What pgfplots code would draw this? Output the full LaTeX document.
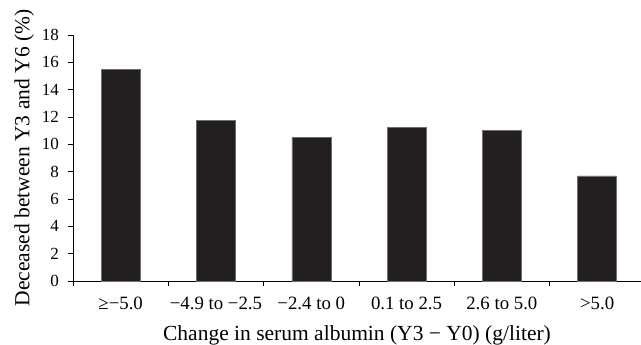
\documentclass[border=0pt]{standalone}
\usepackage{fontspec}
\setmainfont{Liberation Serif}
\usepackage{pgfplots}
\pgfplotsset{compat=1.18}
\definecolor{barfill}{RGB}{35,31,32}
\definecolor{baredge}{RGB}{110,110,110}
\begin{document}
\begin{tikzpicture}
\begin{axis}[
  scale only axis,
  width=568bp, height=246bp,
  xmin=0, xmax=5.96, ymin=0, ymax=18,
  axis x line*=bottom, axis y line*=left,
  axis line style={line width=0.8bp, black},
  tick style={line width=0.8bp, black},
  tick align=outside,
  major tick length=5bp,
  ytick={0,2,...,18},
  xtick={0,1,...,5},
  xticklabels={},
  extra x ticks={0.5,1.5,2.5,3.5,4.5,5.5},
  extra x tick labels={≥−5.0,−4.9 to −2.5,−2.4 to 0,0.1 to 2.5,2.6 to 5.0,>5.0},
  extra x tick style={major tick length=0pt, tick label style={font=\fontsize{18.8bp}{20bp}\selectfont, anchor=center, yshift=-22bp, inner sep=0pt}},
  /pgf/number format/assume math mode=true,
  yticklabel style={font=\fontsize{17bp}{19bp}\selectfont, anchor=east, inner sep=0pt, xshift=-9bp},
  xlabel={Change in serum albumin (Y3 − Y0) (g/liter)},
  ylabel={Deceased between Y3 and Y6 (\%)},
  label style={font=\fontsize{21.5bp}{23bp}\selectfont},
  xlabel style={at={(axis description cs:0.5,0)}, anchor=center, yshift=-54bp},
  ylabel style={at={(axis description cs:-0.086,0.5)}, anchor=center},
  clip=false,
]
\addplot[ybar, bar width=39bp, fill=barfill, draw=baredge, line width=0.5bp] coordinates {
  (0.5,15.5) (1.5,11.76) (2.5,10.5) (3.5,11.24) (4.5,11.02) (5.5,7.7)
};
\coordinate (O) at (rel axis cs:0,0);
\end{axis}
\pgfresetboundingbox
\path (O) ++(-73bp,-64bp) rectangle ++(641bp,345bp);
\end{tikzpicture}
\end{document}
